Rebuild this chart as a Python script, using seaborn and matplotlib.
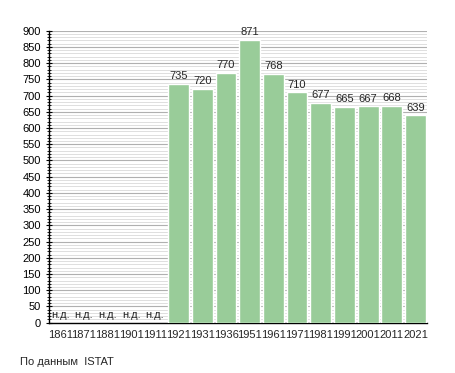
import matplotlib
matplotlib.use('Agg')
import matplotlib.pyplot as plt
from matplotlib.ticker import MultipleLocator
import seaborn as sns

# data
years = ['1861', '1871', '1881', '1901', '1911', '1921', '1931', '1936',
         '1951', '1961', '1971', '1981', '1991', '2001', '2011', '2021']
missing_years = ['1861', '1871', '1881', '1901', '1911']
data_years = ['1921', '1931', '1936', '1951', '1961', '1971', '1981',
              '1991', '2001', '2011', '2021']
population = [735, 720, 770, 871, 768, 710, 677, 665, 667, 668, 639]
missing_label = 'н.д.'
source_text = 'По данным  ISTAT'

sns.set_style('white')
plt.rcParams['font.family'] = ['Liberation Sans', 'DejaVu Sans']

fig = plt.figure(figsize=(4.55, 3.73), dpi=100)
ax = fig.add_axes([0.1066, 0.1349, 0.8325, 0.7828])

sns.barplot(x=data_years, y=population, order=years, color='#99cc99',
            saturation=1, width=0.88, ax=ax, zorder=3)

ax.set_xlim(-0.5, len(years) - 0.5)
ax.set_ylim(0, 900)
ax.yaxis.set_major_locator(MultipleLocator(50))
ax.yaxis.set_minor_locator(MultipleLocator(10))
ax.set_axisbelow(True)
ax.grid(which='major', axis='y', color='#b0b0b0', lw=0.8)
ax.grid(which='minor', axis='y', color='#dedede', lw=0.7)
ax.grid(which='major', axis='x', visible=False)

for s in ['top', 'right']:
    ax.spines[s].set_visible(False)
for s in ['left', 'bottom']:
    ax.spines[s].set_color('black')
    ax.spines[s].set_linewidth(1.0)

ax.tick_params(axis='y', which='major', left=True, length=5, width=0.8,
               direction='inout', labelsize=8, pad=3, colors='black')
ax.tick_params(axis='y', which='minor', left=True, length=3, width=0.6,
               direction='inout', colors='black')
ax.tick_params(axis='x', which='both', bottom=False, labelsize=8, pad=1.5)
ax.set_xlabel('')
ax.set_ylabel('')

# value labels
for yr, v in zip(data_years, population):
    ax.annotate(str(v), (years.index(yr), v), xytext=(0, 2),
                textcoords='offset points', ha='center', va='bottom',
                fontsize=8)
for yr in missing_years:
    ax.annotate(missing_label, (years.index(yr), 0), xytext=(0, 2),
                textcoords='offset points', ha='center', va='bottom',
                fontsize=8)

fig.text(20 / 455, 1 - 362 / 373, source_text, fontsize=8,
         ha='left', va='center')

fig.savefig('out.png', dpi=100)
